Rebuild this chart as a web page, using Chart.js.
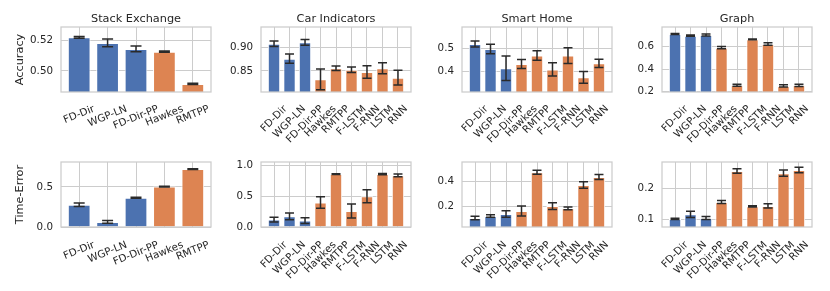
<!DOCTYPE html>
<html>
<head>
<meta charset="utf-8">
<script src="https://cdn.jsdelivr.net/npm/chart.js@4.4.0/dist/chart.umd.min.js"></script>
<style>
  body { margin: 0; background: #fff; width: 830px; height: 291px; position: relative; overflow: hidden; }
  canvas { position: absolute; }
</style>
</head>
<body>
<script>
// Models and datasets
const models5 = ['FD-Dir', 'WGP-LN', 'FD-Dir-PP', 'Hawkes', 'RMTPP'];
const models9 = ['FD-Dir', 'WGP-LN', 'FD-Dir-PP', 'Hawkes', 'RMTPP', 'F-LSTM', 'F-RNN', 'LSTM', 'RNN'];
const ourModels = ['FD-Dir', 'WGP-LN', 'FD-Dir-PP'];
const datasetNames = ['Stack Exchange', 'Car Indicators', 'Smart Home', 'Graph'];

// Accuracy (mean, std)
const accStack = [0.5222, 0.5185, 0.5145, 0.5127, 0.4914];
const accStackErr = [0.0006, 0.0025, 0.0019, 0.0004, 0.0004];
const accCar = [0.9086, 0.8764, 0.9115, 0.832, 0.8558, 0.8528, 0.8478, 0.8558, 0.8357];
const accCarErr = [0.006, 0.010, 0.006, 0.0225, 0.005, 0.006, 0.0135, 0.012, 0.016];
const accHome = [0.519, 0.497, 0.412, 0.431, 0.468, 0.407, 0.468, 0.372, 0.434];
const accHomeErr = [0.013, 0.021, 0.054, 0.020, 0.021, 0.029, 0.035, 0.026, 0.018];
const accGraph = [0.713, 0.698, 0.704, 0.591, 0.257, 0.665, 0.624, 0.251, 0.257];
const accGraphErr = [0.004, 0.006, 0.008, 0.010, 0.008, 0.004, 0.012, 0.010, 0.010];

// Time-Error (mean, std)
const teStack = [0.278, 0.063, 0.366, 0.505, 0.723];
const teStackErr = [0.021, 0.017, 0.007, 0.004, 0.004];
const teCar = [0.121, 0.175, 0.105, 0.40, 0.864, 0.262, 0.503, 0.864, 0.842];
const teCarErr = [0.038, 0.055, 0.046, 0.093, 0.005, 0.115, 0.107, 0.010, 0.022];
const teHome = [0.112, 0.128, 0.143, 0.167, 0.468, 0.205, 0.187, 0.369, 0.431];
const teHomeErr = [0.013, 0.010, 0.025, 0.039, 0.016, 0.026, 0.010, 0.026, 0.019];
const teGraph = [0.101, 0.116, 0.104, 0.156, 0.256, 0.142, 0.143, 0.249, 0.259];
const teGraphErr = [0.002, 0.010, 0.005, 0.005, 0.007, 0.002, 0.007, 0.010, 0.009];

// Y tick labels
const yTicksAccStack = ['0.50', '0.52'];
const yTicksAccCar = ['0.85', '0.90'];
const yTicksAccHome = ['0.4', '0.5'];
const yTicksAccGraph = ['0.2', '0.4', '0.6'];
const yTicksTeStack = ['0.0', '0.5'];
const yTicksTeCar = ['0.0', '0.5', '1.0'];
const yTicksTeHome = ['0.2', '0.4'];
const yTicksTeGraph = ['0.1', '0.2'];

const BLUE = '#4C72B0';
const ORANGE = '#DD8452';
const TEXT = '#262626';
const GRID = '#cccccc';

Chart.defaults.font.family = 'DejaVu Sans';
Chart.defaults.color = TEXT;

// error bars with caps
const errorBars = {
    id: 'errorBars',
    afterDatasetsDraw(chart, args, opts) {
        const { ctx, chartArea, scales: { x, y } } = chart;
        const ds = chart.data.datasets[0];
        const c = opts.cap / 2;
        ctx.save();
        ctx.beginPath();
        ctx.rect(chartArea.left, chartArea.top, chartArea.width, chartArea.height);
        ctx.clip();
        ctx.beginPath();
        ctx.strokeStyle = '#2a2a2a';
        ctx.lineWidth = 1.5;
        ds.data.forEach((p, i) => {
            const e = ds.errors[i];
            const px = x.getPixelForValue(p.x);
            const top = y.getPixelForValue(p.y + e);
            const bot = y.getPixelForValue(p.y - e);
            ctx.moveTo(px, top); ctx.lineTo(px, bot);
            ctx.moveTo(px - c, top); ctx.lineTo(px + c, top);
            ctx.moveTo(px - c, bot); ctx.lineTo(px + c, bot);
        });
        ctx.stroke();
        ctx.restore();
    }
};

// full frame around the plot area
const frame = {
    id: 'frame',
    afterDatasetsDraw(chart) {
        const { ctx, chartArea: a } = chart;
        ctx.save();
        ctx.strokeStyle = GRID;
        ctx.lineWidth = 1.25;
        ctx.strokeRect(a.left, a.top, a.width, a.height);
        ctx.restore();
    }
};

// title centred over the plot area
const panelTitle = {
    id: 'panelTitle',
    afterDraw(chart, args, opts) {
        if (!opts.text) return;
        const { ctx, chartArea: a } = chart;
        ctx.save();
        ctx.font = '11.3px "DejaVu Sans"';
        ctx.fillStyle = TEXT;
        ctx.textAlign = 'center';
        ctx.textBaseline = 'alphabetic';
        ctx.fillText(opts.text, (a.left + a.right) / 2, a.top - 5);
        ctx.restore();
    }
};

// rotated, centre-aligned category labels (matplotlib style)
const xLabels = {
    id: 'xLabels',
    afterDraw(chart, args, opts) {
        const { ctx, chartArea, scales: { x } } = chart;
        const size = opts.size;
        const th = opts.rotation * Math.PI / 180;
        ctx.save();
        ctx.font = size + 'px "DejaVu Sans"';
        ctx.fillStyle = TEXT;
        ctx.textAlign = 'center';
        ctx.textBaseline = 'middle';
        opts.labels.forEach((lab, i) => {
            const w = ctx.measureText(lab).width;
            const h = size * 1.17;
            const H = w * Math.sin(th) + h * Math.cos(th);
            const cx = x.getPixelForValue(i);
            const cy = chartArea.bottom + opts.gap + H / 2;
            ctx.save();
            ctx.translate(cx, cy);
            ctx.rotate(-th);
            ctx.fillText(lab, 0, 0);
            ctx.restore();
        });
        ctx.restore();
    }
};

const PLOT_W = 150;
const LEFT_SPACE = 60;
const colX = [61, 261, 462, 662];

function makePanel(p) {
    const row0 = p.row === 0;
    const canvasTop = row0 ? 0 : 140;
    const canvasH = row0 ? 145 : 151;
    const plotTop = row0 ? 27 : 162;
    const plotBottom = row0 ? 92 : 227;
    const canvas = document.createElement('canvas');
    canvas.width = LEFT_SPACE + PLOT_W + 10;
    canvas.height = canvasH;
    canvas.style.left = (colX[p.col] - LEFT_SPACE) + 'px';
    canvas.style.top = canvasTop + 'px';
    document.body.appendChild(canvas);

    const n = p.models.length;
    const margin = 0.05 * (n - 0.2);

    return new Chart(canvas.getContext('2d'), {
        type: 'bar',
        data: {
            datasets: [{
                data: p.values.map((v, i) => ({ x: i, y: v })),
                errors: p.errors,
                backgroundColor: p.models.map(m => ourModels.includes(m) ? BLUE : ORANGE),
                borderColor: '#ffffff',
                borderWidth: 1,
                barPercentage: 0.8,
                categoryPercentage: 1
            }]
        },
        options: {
            responsive: false,
            animation: false,
            devicePixelRatio: 1,
            layout: {
                padding: { left: 0, right: 10, top: plotTop - canvasTop, bottom: 0 }
            },
            plugins: {
                legend: { display: false },
                tooltip: { enabled: false },
                title: { display: false },
                panelTitle: { text: p.title },
                errorBars: { cap: p.cap },
                xLabels: { labels: p.models, rotation: p.rotation, size: 10.3, gap: p.row === 0 ? 11 : 12 }
            },
            scales: {
                x: {
                    type: 'linear',
                    min: -0.4 - margin,
                    max: n - 0.6 + margin,
                    offset: false,
                    afterBuildTicks: s => { s.ticks = p.models.map((m, i) => ({ value: i })); },
                    afterFit: s => { s.height = canvasH - (plotBottom - canvasTop); },
                    ticks: { display: false },
                    grid: { color: GRID, lineWidth: 1, drawTicks: false, offset: false },
                    border: { display: false }
                },
                y: {
                    min: p.yMin,
                    max: p.yMax,
                    afterBuildTicks: s => { s.ticks = p.yTicks.map(t => ({ value: parseFloat(t) })); },
                    afterFit: s => { s.width = LEFT_SPACE; },
                    ticks: {
                        font: { size: 10.3 },
                        color: TEXT,
                        padding: 8,
                        callback: (v, i) => p.yTicks[i]
                    },
                    grid: { color: GRID, lineWidth: 1, drawTicks: false },
                    border: { display: false },
                    title: {
                        display: !!p.yLabel,
                        text: p.yLabel || '',
                        font: { size: 11.3 },
                        color: TEXT,
                        padding: { top: 12.2, bottom: 0 }
                    }
                }
            }
        },
        plugins: [frame, errorBars, panelTitle, xLabels]
    });
}

makePanel({ row: 0, col: 0, title: datasetNames[0], models: models5, values: accStack, errors: accStackErr,
    yTicks: yTicksAccStack, yMin: 0.4861, yMax: 0.529, yLabel: 'Accuracy', rotation: 22, cap: 11 });
makePanel({ row: 0, col: 1, title: datasetNames[1], models: models9, values: accCar, errors: accCarErr,
    yTicks: yTicksAccCar, yMin: 0.8049, yMax: 0.9444, rotation: 45, cap: 9 });
makePanel({ row: 0, col: 2, title: datasetNames[2], models: models9, values: accHome, errors: accHomeErr,
    yTicks: yTicksAccHome, yMin: 0.3075, yMax: 0.594, rotation: 45, cap: 9 });
makePanel({ row: 0, col: 3, title: datasetNames[3], models: models9, values: accGraph, errors: accGraphErr,
    yTicks: yTicksAccGraph, yMin: 0.197, yMax: 0.775, rotation: 45, cap: 9 });

makePanel({ row: 1, col: 0, models: models5, values: teStack, errors: teStackErr,
    yTicks: yTicksTeStack, yMin: 0, yMax: 0.812, yLabel: 'Time-Error', rotation: 22, cap: 11 });
makePanel({ row: 1, col: 1, models: models9, values: teCar, errors: teCarErr,
    yTicks: yTicksTeCar, yMin: 0, yMax: 1.061, rotation: 45, cap: 9 });
makePanel({ row: 1, col: 2, models: models9, values: teHome, errors: teHomeErr,
    yTicks: yTicksTeHome, yMin: 0.042, yMax: 0.548, rotation: 45, cap: 9 });
makePanel({ row: 1, col: 3, models: models9, values: teGraph, errors: teGraphErr,
    yTicks: yTicksTeGraph, yMin: 0.075, yMax: 0.285, rotation: 45, cap: 9 });
</script>
</body>
</html>
